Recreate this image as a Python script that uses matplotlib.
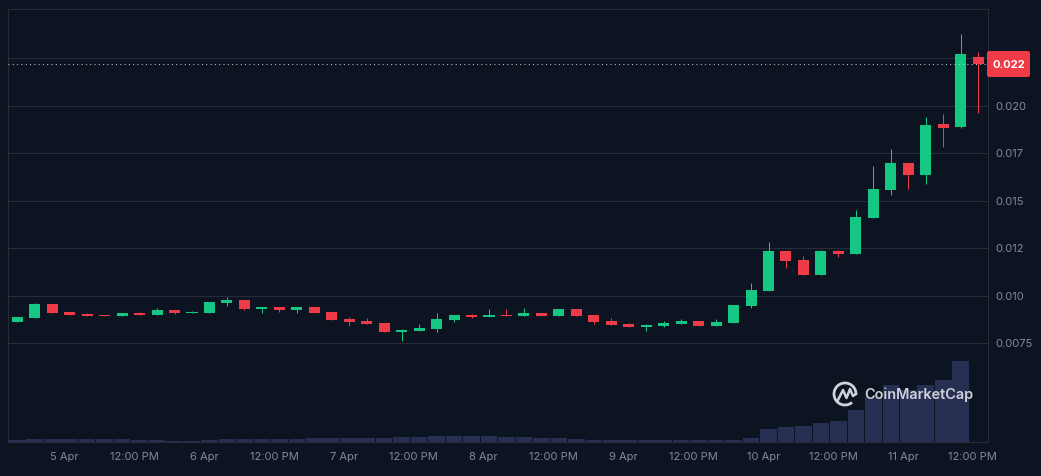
import numpy as np
import matplotlib.pyplot as plt
from matplotlib.patches import Arc, FancyBboxPatch

BG = "#0d1421"
GRID = "#262e3a"
TEXT = "#808a9d"
GREEN = "#16c784"
RED = "#ef3a47"
VOL = "#272f52"

# 3 hour candles, prices
opens = [0.008621, 0.008832, 0.009568, 0.009147, 0.009042, 0.008989, 0.008937, 0.009095,
         0.008989, 0.009253, 0.009095, 0.009095, 0.009621, 0.009779, 0.009305, 0.00941,
         0.009253, 0.00941, 0.009147, 0.008779, 0.008674, 0.008568, 0.008095, 0.008147,
         0.008253, 0.008726, 0.008989, 0.008884, 0.008989, 0.008937, 0.009095, 0.008937,
         0.009305, 0.008989, 0.008674, 0.008516, 0.008358, 0.00841, 0.008516, 0.008674,
         0.00841, 0.008568, 0.009463, 0.010253, 0.012358, 0.011884, 0.011095, 0.012358,
         0.0122, 0.014095, 0.015568, 0.016989, 0.016358, 0.019042, 0.018884, 0.022568]
highs = [0.008884, 0.009621, 0.009568, 0.009147, 0.009095, 0.008989, 0.009095, 0.009147,
         0.009358, 0.009253, 0.0092, 0.009674, 0.009937, 0.009779, 0.00941, 0.00941,
         0.00941, 0.009463, 0.009147, 0.008884, 0.008832, 0.008568, 0.008253, 0.008516,
         0.009095, 0.008989, 0.009042, 0.009305, 0.009305, 0.009358, 0.009095, 0.009305,
         0.009305, 0.008989, 0.008832, 0.008568, 0.008516, 0.008674, 0.008779, 0.008674,
         0.008779, 0.009516, 0.010674, 0.012831, 0.012358, 0.012095, 0.01241, 0.01241,
         0.014516, 0.016831, 0.017726, 0.016989, 0.01941, 0.019568, 0.023779, 0.022831]
lows = [0.008621, 0.008832, 0.009095, 0.008989, 0.008937, 0.008937, 0.008937, 0.008989,
        0.008989, 0.009042, 0.009095, 0.009095, 0.009463, 0.009253, 0.009095, 0.009147,
        0.009095, 0.009095, 0.008726, 0.00841, 0.008516, 0.008095, 0.007621, 0.008147,
        0.008095, 0.008621, 0.008832, 0.008884, 0.008937, 0.008937, 0.008937, 0.008937,
        0.008937, 0.008516, 0.008463, 0.008358, 0.008147, 0.008358, 0.008516, 0.00841,
        0.00841, 0.008568, 0.009358, 0.010253, 0.011463, 0.011095, 0.011095, 0.012042,
        0.0122, 0.014095, 0.015305, 0.01562, 0.015884, 0.017831, 0.018831, 0.019621]
closes = [0.008884, 0.009568, 0.009095, 0.008989, 0.008937, 0.008937, 0.009095, 0.008989,
          0.009253, 0.009095, 0.009147, 0.009674, 0.009779, 0.009305, 0.00941, 0.009253,
          0.00941, 0.009095, 0.008726, 0.008621, 0.008516, 0.008095, 0.0082, 0.008305,
          0.008779, 0.008989, 0.008884, 0.008989, 0.008937, 0.009095, 0.008937, 0.009305,
          0.008937, 0.008621, 0.008463, 0.008358, 0.008463, 0.008568, 0.008674, 0.00841,
          0.008621, 0.009516, 0.010305, 0.012358, 0.011831, 0.011095, 0.012358, 0.0122,
          0.014147, 0.01562, 0.016989, 0.016358, 0.018989, 0.018831, 0.022726, 0.022184]
volumes = [2.3, 3.3, 3.3, 3.3, 3.3, 3.3, 3.3, 2.3, 2.3, 1.3, 1.3, 2.3, 3.3, 3.3,
           3.3, 3.3, 3.3, 4.3, 4.3, 4.3, 4.3, 4.3, 5.3, 5.3, 6.3, 6.3, 6.3, 6.3,
           5.3, 5.3, 4.3, 4.3, 3.3, 2.3, 2.3, 2.3, 2.3, 2.3, 2.3, 2.3, 2.3, 2.3,
           4.3, 13.3, 15.3, 16.3, 19.3, 21.3, 32.3, 45, 57.3, 52, 57.3, 62.3, 81.3, 0]

x_labels = ["5 Apr", "12:00 PM", "6 Apr", "12:00 PM", "7 Apr", "12:00 PM", "8 Apr",
            "12:00 PM", "9 Apr", "12:00 PM", "10 Apr", "12:00 PM", "11 Apr", "12:00 PM"]
y_ticks = [0.0075, 0.01, 0.0125, 0.015, 0.0175, 0.02, 0.0225]
y_labels = ["0.0075", "0.010", "0.012", "0.015", "0.017", "0.020", ""]
last_price = 0.022184

plt.rcParams["font.family"] = ["Inter", "DejaVu Sans"]

fig = plt.figure(figsize=(10.41, 4.76), dpi=100, facecolor=BG)
ax = fig.add_axes([8.3 / 1041, 33.7 / 476, 980 / 1041, 433 / 476], facecolor=BG)

# volume sits on its own scale at the bottom, behind the candles
ax2 = ax.twinx()
ax2.set_zorder(ax.get_zorder() - 1)
ax.patch.set_visible(False)
ax2.patch.set_facecolor(BG)

idx = np.arange(len(opens))
o = np.array(opens)
c = np.array(closes)
colors = [GREEN if b >= a else RED for a, b in zip(opens, closes)]

# 0.72 pt is one pixel at this dpi
ax.vlines(idx, lows, highs, colors=colors, linewidth=0.72, zorder=3)
ax.bar(idx, np.abs(c - o), bottom=np.minimum(o, c), width=0.63, color=colors, zorder=4)
ax.axhline(last_price, color="#c8ccd4", linewidth=0.72, linestyle=(0, (1, 3.3)), zorder=5)

ax.set_xlim(-0.515, 55.58)
ax.set_ylim(0.00229, 0.02508)
ax.yaxis.tick_right()
ax.set_yticks(y_ticks)
ax.set_yticklabels(y_labels)
ax.set_xticks(np.arange(len(x_labels)) * 4 + 2.7)
ax.set_xticklabels(x_labels)
ax.tick_params(axis="y", length=0, pad=5, labelsize=8.0, labelcolor=TEXT)
ax.tick_params(axis="x", length=0, pad=7, labelsize=8.0, labelcolor=TEXT)
ax.grid(axis="y", color=GRID, linewidth=0.72, zorder=0)
for s in ax.spines.values():
    s.set_color(GRID)
    s.set_linewidth(0.72)

ax2.bar(idx, volumes, width=0.95, color=VOL)
ax2.set_ylim(0, 433)
ax2.set_yticks([])
for s in ax2.spines.values():
    s.set_visible(False)

# overlay in pixels for the price badge and the logo
top = fig.add_axes([0, 0, 1, 1], facecolor="none")
top.set_xlim(0, 1041)
top.set_ylim(476, 0)
top.axis("off")

top.add_patch(FancyBboxPatch((988, 52), 41, 24, boxstyle="round,pad=1,rounding_size=2",
                             facecolor=RED, edgecolor="none"))
top.text(1008.5, 64.5, "0.022", color="white", fontsize=8.0, fontweight="bold",
         ha="center", va="center")

LOGO = "#cfd2d9"
top.add_patch(Arc((845, 394), 22, 22, theta1=50, theta2=360, color=LOGO, linewidth=2))
zig_x = [838, 843, 846.5, 850, 853, 856]
zig_y = [400, 390, 398, 389, 396, 394]
top.plot(zig_x, zig_y, color=LOGO, linewidth=1.8, solid_joinstyle="round")
top.text(864, 395, "CoinMarketCap", color=LOGO, fontsize=10.4, fontweight="semibold",
         ha="left", va="center")

fig.savefig("out.png", dpi=100, facecolor=BG)
